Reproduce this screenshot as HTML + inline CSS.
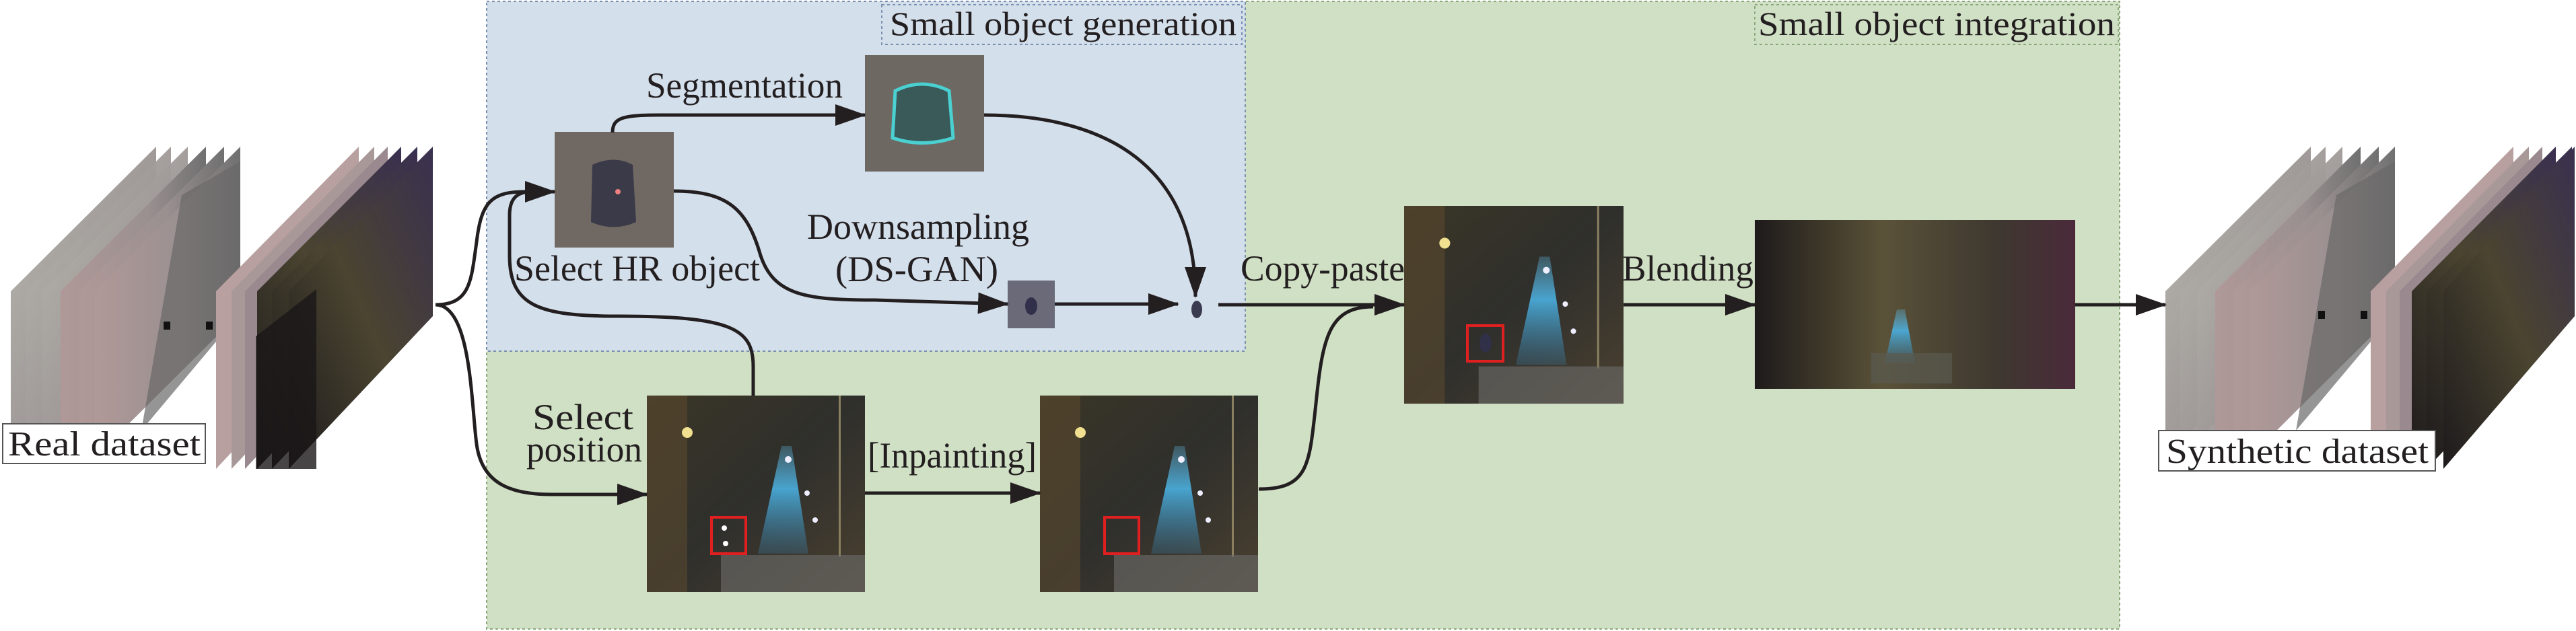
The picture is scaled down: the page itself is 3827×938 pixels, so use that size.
<!DOCTYPE html>
<html><head><meta charset="utf-8"><style>
html,body{margin:0;padding:0;background:#fff;}
svg{display:block;}
text{font-family:"Liberation Serif",serif;fill:#231f20;}
</style></head><body>
<svg width="3827" height="938" viewBox="0 0 3827 938" xmlns="http://www.w3.org/2000/svg">
<defs>
<marker id="ah" markerWidth="46" markerHeight="32" refX="44" refY="16" orient="auto" markerUnits="userSpaceOnUse">
<path d="M0,0 L46,16 L0,32 Z" fill="#231f20"/>
</marker>
<linearGradient id="night" x1="0" y1="0" x2="1" y2="1">
<stop offset="0" stop-color="#3a3526"/><stop offset="0.5" stop-color="#2f2f2c"/><stop offset="1" stop-color="#4a4030"/>
</linearGradient>
<linearGradient id="streak" x1="0" y1="0" x2="0" y2="1">
<stop offset="0" stop-color="#5fb8e0" stop-opacity="0.3"/><stop offset="0.4" stop-color="#4ab0e0" stop-opacity="0.9"/><stop offset="1" stop-color="#3a7aa0" stop-opacity="0.3"/>
</linearGradient>
<linearGradient id="day" x1="0" y1="0" x2="1" y2="1">
<stop offset="0" stop-color="#b8b8b0"/><stop offset="0.5" stop-color="#a09a98"/><stop offset="1" stop-color="#8a7a78"/>
</linearGradient>
<linearGradient id="dayB" x1="0" y1="0" x2="1" y2="0">
<stop offset="0" stop-color="#b09898"/><stop offset="0.6" stop-color="#9a9090"/><stop offset="1" stop-color="#707070"/>
</linearGradient>
<linearGradient id="nt" x1="0" y1="1" x2="1" y2="0">
<stop offset="0" stop-color="#1e1a1c"/><stop offset="0.5" stop-color="#4a4430"/><stop offset="1" stop-color="#3a3050"/>
</linearGradient>
<linearGradient id="blend" x1="0" y1="0" x2="1" y2="0">
<stop offset="0" stop-color="#1e1a1a"/><stop offset="0.4" stop-color="#5a5238"/><stop offset="0.75" stop-color="#3e3830"/><stop offset="1" stop-color="#4a2a3a"/>
</linearGradient>
<g id="scene">
<rect x="0" y="0" width="324" height="292" fill="url(#night)"/>
<rect x="0" y="0" width="60" height="292" fill="#5a4a2e" opacity="0.6"/>
<circle cx="60" cy="55" r="8" fill="#f0e090"/>
<rect x="285" y="0" width="3" height="240" fill="#8a8060"/>
<path d="M200,75 L215,75 L240,235 L165,235 Z" fill="url(#streak)"/>
<circle cx="210" cy="95" r="5" fill="#eef"/><circle cx="238" cy="145" r="4" fill="#eef"/><circle cx="250" cy="185" r="4" fill="#eef"/>
<g fill="#ccc" opacity="0.8">
<rect x="110" y="237" width="214" height="55" fill="#6a6a68" opacity="0.8"/>
</g>
</g>
</defs>

<!-- panels -->
<rect x="723" y="2" width="2426" height="933" fill="#d0e0c4" stroke="#8aa87a" stroke-width="2" stroke-dasharray="4,4"/>
<rect x="723" y="2" width="1127" height="520" fill="#d4dfec" stroke="#7a90b0" stroke-width="2" stroke-dasharray="4,4"/>
<rect x="1310" y="7" width="535" height="59" fill="none" stroke="#7a90b0" stroke-width="2" stroke-dasharray="4,4"/>
<text x="1322" y="52" font-size="50" textLength="515" lengthAdjust="spacingAndGlyphs">Small object generation</text>
<rect x="2607" y="7" width="540" height="59" fill="none" stroke="#8aa87a" stroke-width="2" stroke-dasharray="4,4"/>
<text x="2612" y="52" font-size="50" textLength="530" lengthAdjust="spacingAndGlyphs">Small object integration</text>

<!-- real dataset stack -->
<g id="stack">
<polygon points="16,433 232,218 232,465 16,680" fill="url(#day)"/>
<polygon points="38,433 254,218 254,465 38,680" fill="url(#day)" opacity="0.95"/>
<polygon points="63,433 279,218 279,465 63,680" fill="url(#day)" opacity="0.95"/>
<polygon points="90,433 306,218 306,465 90,680" fill="url(#dayB)"/>
<polygon points="117,433 333,218 333,465 117,680" fill="url(#dayB)"/>
<polygon points="141,433 357,218 357,465 141,680" fill="url(#dayB)"/>
<path d="M270,290 L357,240 L357,465 L210,640 Z" fill="#6a6868" opacity="0.7"/>
<rect x="243" y="478" width="10" height="12" fill="#111"/><rect x="306" y="478" width="10" height="12" fill="#111"/>
<polygon points="321,433 533,218 533,470 321,697" fill="#b8a0a0"/>
<polygon points="344,433 556,218 556,470 344,697" fill="#a89898"/>
<polygon points="364,433 576,218 576,470 364,697" fill="#9a8a90"/>
<polygon points="382,433 596,218 596,470 382,697" fill="url(#nt)"/>
<polygon points="404,433 620,218 620,470 404,697" fill="url(#nt)"/>
<polygon points="429,433 643,218 643,470 429,697" fill="url(#nt)"/>
<polygon points="380,500 470,430 470,697 380,697" fill="#1a1618" opacity="0.8"/>
</g>
<rect x="4" y="630" width="301" height="59" fill="#fff" stroke="#555" stroke-width="2"/>
<text x="12" y="677" font-size="52" textLength="286" lengthAdjust="spacingAndGlyphs">Real dataset</text>

<!-- synthetic stack -->
<g transform="translate(3201,0)">
<polygon points="16,433 232,218 232,465 16,680" fill="url(#day)"/>
<polygon points="38,433 254,218 254,465 38,680" fill="url(#day)" opacity="0.95"/>
<polygon points="63,433 279,218 279,465 63,680" fill="url(#day)" opacity="0.95"/>
<polygon points="90,433 306,218 306,465 90,680" fill="url(#dayB)"/>
<polygon points="117,433 333,218 333,465 117,680" fill="url(#dayB)"/>
<polygon points="141,433 357,218 357,465 141,680" fill="url(#dayB)"/>
<path d="M270,290 L357,240 L357,465 L210,640 Z" fill="#6a6868" opacity="0.7"/>
<rect x="243" y="462" width="10" height="12" fill="#111"/><rect x="306" y="462" width="10" height="12" fill="#111"/>
<polygon points="321,433 533,218 533,470 321,697" fill="#b8a0a0"/>
<polygon points="344,433 556,218 556,470 344,697" fill="#a89898"/>
<polygon points="364,433 576,218 576,470 364,697" fill="#9a8a90"/>
<polygon points="382,433 596,218 596,470 382,697" fill="url(#nt)"/>
<polygon points="404,433 620,218 620,470 404,697" fill="url(#nt)"/>
<polygon points="429,433 624,218 624,470 429,697" fill="url(#nt)"/>
</g>
<rect x="3207" y="640" width="411" height="60" fill="#fff" stroke="#555" stroke-width="2"/>
<text x="3218" y="688" font-size="52" textLength="390" lengthAdjust="spacingAndGlyphs">Synthetic dataset</text>

<!-- HR object -->
<rect x="824" y="196" width="177" height="172" fill="#706862"/>
<path d="M880,245 Q912,230 940,245 L945,330 Q912,345 878,330 Z" fill="#3a3a48"/>
<circle cx="918" cy="285" r="4" fill="#f08080"/>
<!-- seg -->
<rect x="1285" y="82" width="177" height="173" fill="#6e6862"/>
<path d="M1330,135 Q1370,115 1410,135 L1416,205 Q1370,220 1326,205 Z" fill="#3a5a5a" stroke="#4ad0d0" stroke-width="5"/>
<!-- DS -->
<rect x="1497" y="417" width="70" height="71" fill="#6a6a78"/>
<ellipse cx="1532" cy="455" rx="9" ry="13" fill="#30304a"/>
<!-- tiny car -->
<ellipse cx="1778" cy="460" rx="8" ry="13" fill="#3a3a50"/>

<!-- night scenes -->
<use href="#scene" x="961" y="588"/>
<rect x="1057" y="769" width="51" height="54" fill="none" stroke="#e02020" stroke-width="4"/>
<circle cx="1076" cy="785" r="4" fill="#fff"/><circle cx="1078" cy="808" r="4" fill="#fff"/>
<use href="#scene" x="1545" y="588"/>
<rect x="1641" y="769" width="51" height="54" fill="none" stroke="#e02020" stroke-width="4"/>
<use href="#scene" transform="translate(2086,306) scale(1.006,1.007)"/>
<rect x="2180" y="484" width="53" height="53" fill="none" stroke="#e02020" stroke-width="4"/>
<ellipse cx="2207" cy="510" rx="9" ry="14" fill="#303048"/>
<rect x="2607" y="327" width="476" height="251" fill="url(#blend)"/>
<path d="M2818,460 L2830,460 L2845,540 L2800,540 Z" fill="url(#streak)"/>
<rect x="2780" y="525" width="120" height="45" fill="#5a5a50" opacity="0.7"/>

<!-- connectors -->
<g fill="none" stroke="#231f20" stroke-width="5">
<path d="M647,453 C700,453 700,415 708,360 C715,300 730,285 780,285 L824,285" marker-end="url(#ah)"/>
<path d="M647,453 C700,453 700,600 708,660 C716,720 760,735 820,735 L961,735" marker-end="url(#ah)"/>
<path d="M1119,588 L1119,545 C1119,490 1090,470 920,470 C800,470 757,455 757,380 L757,320 C757,295 768,285 790,285"/>
<path d="M910,197 C910,175 925,171 980,171 L1285,171" marker-end="url(#ah)"/>
<path d="M1462,171 C1620,171 1776,230 1776,441" marker-end="url(#ah)"/>
<path d="M1001,284 C1080,284 1110,310 1130,380 C1150,440 1200,446 1300,446 L1497,452" marker-end="url(#ah)"/>
<path d="M1567,452 L1750,452" marker-end="url(#ah)"/>
<path d="M1810,453 L2086,453" marker-end="url(#ah)"/>
<path d="M1285,733 L1545,733" marker-end="url(#ah)"/>
<path d="M1870,727 C1945,727 1945,690 1955,600 C1965,500 1975,456 2040,456"/>
<path d="M2412,453 L2607,453" marker-end="url(#ah)"/>
<path d="M3083,453 L3217,453" marker-end="url(#ah)"/>
</g>

<!-- labels -->
<text x="960" y="145" font-size="54" textLength="292" lengthAdjust="spacingAndGlyphs">Segmentation</text>
<text x="764" y="417" font-size="54" textLength="365" lengthAdjust="spacingAndGlyphs">Select HR object</text>
<text x="1199" y="355" font-size="54" textLength="330" lengthAdjust="spacingAndGlyphs">Downsampling</text>
<text x="1241" y="418" font-size="54" textLength="242" lengthAdjust="spacingAndGlyphs">(DS-GAN)</text>
<text x="1843" y="417" font-size="54" textLength="244" lengthAdjust="spacingAndGlyphs">Copy-paste</text>
<text x="2410" y="417" font-size="54" textLength="195" lengthAdjust="spacingAndGlyphs">Blending</text>
<text x="1289" y="695" font-size="54" textLength="251" lengthAdjust="spacingAndGlyphs">[Inpainting]</text>
<text x="866" y="638" font-size="54" text-anchor="middle" textLength="150" lengthAdjust="spacingAndGlyphs">Select</text>
<text x="868" y="686" font-size="54" text-anchor="middle" textLength="172" lengthAdjust="spacingAndGlyphs">position</text>
</svg>
</body></html>
